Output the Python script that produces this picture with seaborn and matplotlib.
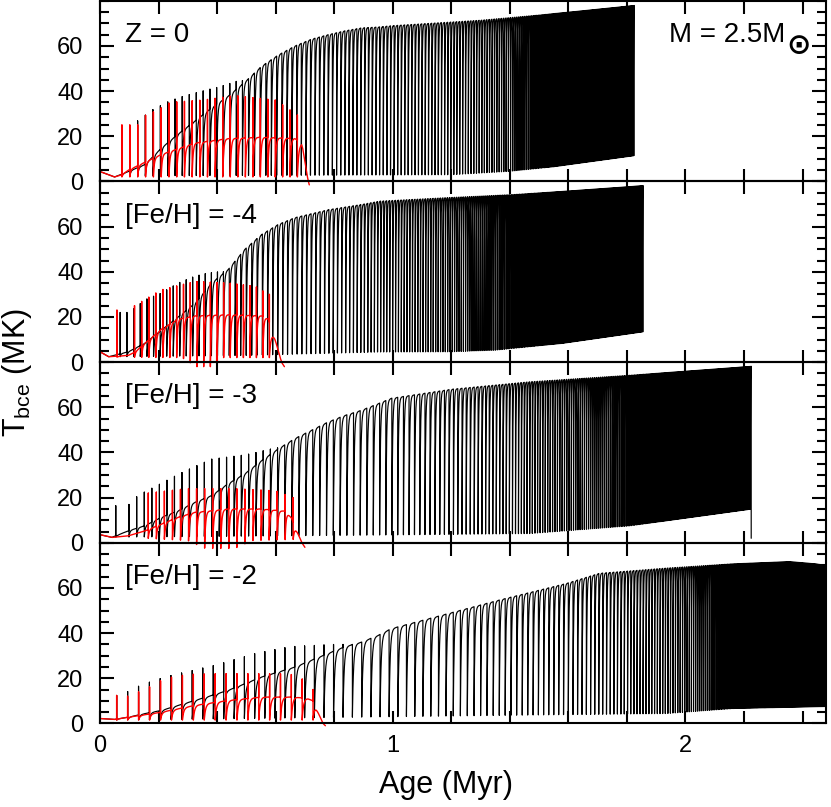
import numpy as np
import matplotlib
matplotlib.use("Agg")
import matplotlib.pyplot as plt
import seaborn as sns
from matplotlib.ticker import MultipleLocator

# ---- values (age in Myr, T_bce in MK) ----
panel_labels = ["Z = 0", "[Fe/H] = -4", "[Fe/H] = -3", "[Fe/H] = -2"]
mass_label = "M = 2.5M"
sun_symbol = "\u2299"

# black model: interpulse level, pulse spike tops, pulse dips, pulse spacing
black_arc_age = [
    [0.0, 0.05, 0.097, 0.154, 0.21, 0.267, 0.324, 0.381, 0.438, 0.495, 0.552, 0.609, 0.666,
     0.722, 0.779, 0.836, 0.893, 0.95, 1.0, 1.3, 1.5, 1.64, 1.83],
    [0.0, 0.03, 0.097, 0.154, 0.21, 0.267, 0.324, 0.381, 0.438, 0.495, 0.552, 0.609, 0.666,
     0.78, 0.893, 0.956, 1.18, 1.41, 1.6, 1.86],
    [0.0, 0.04, 0.097, 0.154, 0.21, 0.267, 0.324, 0.381, 0.438, 0.495, 0.552, 0.609, 0.666,
     0.722, 0.779, 0.836, 0.893, 0.95, 0.995, 1.2, 1.468, 1.81, 2.0, 2.23],
    [0.0, 0.05, 0.097, 0.154, 0.21, 0.267, 0.324, 0.381, 0.438, 0.495, 0.552, 0.609, 0.666,
     0.722, 0.779, 0.836, 0.893, 0.95, 0.995, 1.365, 1.593, 1.706, 1.934, 2.16, 2.355, 2.446, 2.52],
]
black_arc_T = [
    [4.4, 2.0, 4.4, 7.5, 14.8, 21.0, 26.7, 32.6, 37.8, 44.0, 51.0, 56.0, 60.0,
     63.0, 65.0, 66.7, 68.0, 68.4, 69.0, 71.4, 73.7, 75.5, 78.0],
    [4.6, 2.4, 4.6, 8.4, 14.2, 20.0, 26.0, 35.0, 41.0, 50.0, 56.5, 61.0, 64.0,
     67.5, 69.8, 71.3, 72.8, 74.2, 75.8, 78.2],
    [3.6, 2.4, 5.3, 7.6, 11.3, 14.2, 17.9, 20.9, 26.2, 30.6, 36.4, 41.6, 46.2,
     49.8, 53.5, 56.4, 58.7, 61.6, 64.0, 68.0, 71.3, 74.2, 76.0, 78.2],
    [2.2, 1.8, 2.8, 4.4, 5.8, 8.0, 10.2, 12.4, 14.7, 17.6, 20.6, 22.8, 25.0,
     28.0, 31.0, 34.0, 36.0, 39.0, 42.0, 54.7, 62.0, 66.5, 68.8, 70.7, 71.7, 70.7, 69.0],
]
black_spike_age = [
    [0.075, 0.13, 0.183, 0.236, 0.29, 0.35, 0.41, 0.47, 0.52],
    [0.069, 0.1, 0.154, 0.21, 0.267, 0.324, 0.37, 0.41],
    [0.054, 0.1, 0.13, 0.19, 0.27, 0.32, 0.38, 0.5, 0.6],
    [0.057, 0.1, 0.14, 0.22, 0.3, 0.4, 0.53, 0.65, 0.8],
]
black_spike_T = [
    [20, 27, 32, 35.5, 38, 40, 42, 44.5, 45],
    [22, 22, 27.6, 30.6, 35, 38, 39.5, 40],
    [16.4, 17, 21, 25, 30.5, 33.5, 37, 39, 42],
    [12.4, 14.4, 17, 20.5, 23, 26, 31, 34, 35],
]
black_dip_age = [
    [0.07, 1.2, 1.4, 1.55, 1.83],
    [0.06, 0.5, 0.95, 1.2, 1.35, 1.58, 1.86],
    [0.05, 1.0, 1.468, 1.81, 2.23],
    [0.05, 1.0, 1.365, 1.934, 2.16, 2.52],
]
black_dip_T = [
    [2.5, 3.0, 4.5, 6.5, 11.5],
    [2.4, 3.0, 4.5, 4.6, 5.3, 8.3, 13.5],
    [2.5, 3.5, 4.1, 7.5, 15.0],
    [1.5, 3.0, 3.6, 4.4, 6.6, 7.6],
]
black_period_age = [
    [0.075, 0.44, 0.67, 0.9, 1.15, 1.4, 1.55, 1.83],
    [0.069, 0.3, 0.6, 0.8, 0.95, 1.18, 1.41, 1.58, 1.86],
    [0.054, 0.1, 0.5, 0.9, 1.2, 1.47, 1.81, 1.93, 2.23],
    [0.057, 0.5, 0.95, 1.37, 1.6, 1.8, 2.05, 2.2, 2.52],
]
black_period = [
    [0.027, 0.022, 0.016, 0.013, 0.011, 0.0075, 0.004, 0.003],
    [0.023, 0.022, 0.017, 0.0145, 0.0105, 0.008, 0.0057, 0.0035, 0.003],
    [0.045, 0.026, 0.025, 0.0225, 0.015, 0.009, 0.0057, 0.0035, 0.003],
    [0.0375, 0.035, 0.031, 0.02, 0.016, 0.011, 0.0068, 0.004, 0.0035],
]
black_first = [0.075, 0.069, 0.054, 0.057]
black_last = [1.826, 1.857, 2.226, 2.52]
black_end_T = [11.5, 13.5, 2.0, 7.6]

# red model
red_arc_age = [
    [0.0, 0.05, 0.075, 0.097, 0.21, 0.324, 0.438, 0.552, 0.666, 0.69, 0.70, 0.71, 0.715],
    [0.0, 0.03, 0.097, 0.12, 0.154, 0.21, 0.267, 0.324, 0.438, 0.552, 0.575, 0.597, 0.62, 0.63],
    [0.0, 0.043, 0.097, 0.154, 0.21, 0.267, 0.324, 0.381, 0.438, 0.552, 0.634, 0.654, 0.69, 0.70],
    [0.0, 0.05, 0.097, 0.21, 0.324, 0.438, 0.552, 0.666, 0.71, 0.728, 0.745, 0.762, 0.77],
]
red_arc_T = [
    [4.4, 2.0, 3.0, 5.0, 12.0, 17.0, 19.0, 19.6, 19.0, 17.0, 9.0, 1.0, -1.5],
    [4.6, 2.4, 3.0, 4.5, 8.4, 14.6, 19.0, 20.5, 21.0, 20.5, 19.0, 11.0, 0.0, -2.0],
    [3.6, 2.4, 3.1, 5.3, 8.3, 11.3, 13.5, 14.2, 15.0, 15.0, 14.0, 11.0, 0.0, -2.0],
    [2.2, 1.8, 2.8, 5.0, 8.0, 10.2, 11.7, 11.7, 11.0, 10.0, 5.0, 0.0, -1.0],
]
red_spike_age = [
    [0.075, 0.13, 0.16, 0.19, 0.24, 0.35, 0.46, 0.6, 0.69],
    [0.058, 0.118, 0.21, 0.324, 0.438, 0.53, 0.575],
    [0.165, 0.3, 0.45, 0.6, 0.66],
    [0.057, 0.1, 0.183, 0.22, 0.3, 0.41, 0.55, 0.64, 0.68, 0.728],
]
red_spike_T = [
    [25, 25, 30, 31, 35, 36, 38, 36, 28],
    [23, 25, 32, 35.7, 35, 33.6, 30],
    [22, 24, 24, 23, 20],
    [12.4, 12, 17, 19.9, 21.7, 22, 22, 22, 21, 15],
]
red_dip_age = [
    [0.07, 0.7],
    [0.05, 0.28, 0.33, 0.38, 0.42, 0.6],
    [0.16, 0.3, 0.36, 0.46, 0.52, 0.66],
    [0.05, 0.73],
]
red_dip_T = [
    [2.0, 2.0],
    [2.2, 2.0, -2.0, -2.0, 2.0, 2.0],
    [2.0, 1.0, -2.5, -2.5, 1.0, 1.5],
    [1.5, 1.5],
]
red_period_age = [[0.075, 0.69], [0.058, 0.118, 0.3, 0.575], [0.165, 0.663], [0.057, 0.728]]
red_period = [[0.027, 0.025], [0.06, 0.0245, 0.023, 0.022], [0.0275, 0.0275], [0.0375, 0.037]]
red_first = [0.075, 0.058, 0.165, 0.057]
red_last = [0.695, 0.58, 0.668, 0.732]

# recovery after each pulse, as fraction of the interpulse interval
U = np.array([0.0, 0.01, 0.03, 0.06, 0.1, 0.15, 0.2, 0.28, 0.36, 0.45, 0.55, 0.65, 0.75, 0.85, 0.93])


def build_track(arc_age, arc_T, spike_age, spike_T, dip_age, dip_T,
                per_age, per, first, last, tail_end=None, end_T=None):
    pulses = [first]
    while True:
        nxt = pulses[-1] + np.interp(pulses[-1], per_age, per)
        if nxt > last + 1e-6:
            break
        pulses.append(nxt)

    arc_age = np.asarray(arc_age)
    arc_T = np.asarray(arc_T)
    keep = arc_age < first
    ages = list(arc_age[keep])
    temps = list(arc_T[keep])
    for i, t0 in enumerate(pulses):
        a0 = np.interp(t0, arc_age, arc_T)
        s0 = max(np.interp(t0, spike_age, spike_T), a0)
        d0 = np.interp(t0, dip_age, dip_T)
        if i + 1 < len(pulses):
            t1 = pulses[i + 1]
        elif tail_end is not None:
            t1 = tail_end
        else:
            ages += [t0, t0, t0]
            temps += [a0, s0, end_T]
            break
        ages += [t0, t0, t0]
        temps += [a0, s0, d0]
        tt = t0 + U[1:] * (t1 - t0)
        base = np.interp(tt, arc_age, arc_T)
        rec = base - (a0 - d0) * np.exp(-U[1:] / 0.12)
        ages += list(tt)
        temps += list(rec)
        if i + 1 == len(pulses):
            ages.append(t1)
            temps.append(np.interp(t1, arc_age, arc_T))
    return np.array(ages), np.array(temps)


sns.set_theme(style="ticks")
plt.rcParams["font.family"] = ["Liberation Sans", "DejaVu Sans"]
plt.rcParams["mathtext.default"] = "regular"
plt.rcParams["axes.linewidth"] = 1.5
for key in ["text.color", "axes.labelcolor", "xtick.color", "ytick.color", "axes.edgecolor"]:
    plt.rcParams[key] = "black"

fig, axes = plt.subplots(4, 1, figsize=(8.31, 8.07), dpi=100, sharex=True)
fig.subplots_adjust(left=0.1203, right=0.994, top=0.999, bottom=0.1035, hspace=0)

for k, ax in enumerate(axes):
    ax.set_facecolor("none")
    bx, by = build_track(black_arc_age[k], black_arc_T[k], black_spike_age[k], black_spike_T[k],
                         black_dip_age[k], black_dip_T[k], black_period_age[k], black_period[k],
                         black_first[k], black_last[k], end_T=black_end_T[k])
    rx, ry = build_track(red_arc_age[k], red_arc_T[k], red_spike_age[k], red_spike_T[k],
                         red_dip_age[k], red_dip_T[k], red_period_age[k], red_period[k],
                         red_first[k], red_last[k], tail_end=red_arc_age[k][-1])
    sns.lineplot(x=bx, y=by, sort=False, estimator=None, color="black", lw=0.85, ax=ax)
    sns.lineplot(x=rx, y=ry, sort=False, estimator=None, color="#ff0000", lw=1.0, ax=ax)
    ax.lines[-1].set_clip_on(False)

    ax.set_xlim(0, 2.48)
    ax.set_ylim(0, 80)
    ax.set_yticks([0, 20, 40, 60])
    ax.yaxis.set_minor_locator(MultipleLocator(5))
    ax.xaxis.set_major_locator(MultipleLocator(1))
    ax.xaxis.set_minor_locator(MultipleLocator(0.2))
    ax.tick_params(which="both", direction="in", top=True, right=True, width=1.5,
                   labelsize=17, color="black", labelcolor="black")
    ax.tick_params(axis="x", which="both", length=9, pad=8)
    ax.tick_params(axis="y", which="major", length=10, pad=12)
    ax.tick_params(axis="y", which="minor", length=6.5)
    ax.set_xlabel("")
    ax.set_ylabel("")
    for sp in ax.spines.values():
        sp.set_color("black")
        sp.set_zorder(3)

    ax.text(0.034, 0.81, panel_labels[k], transform=ax.transAxes, fontsize=20,
            ha="left", va="center", color="black")

axes[0].text(0.944, 0.81, mass_label, transform=axes[0].transAxes, fontsize=20,
             ha="right", va="center", color="black")
axes[0].text(0.945, 0.75, sun_symbol, transform=axes[0].transAxes, fontsize=21,
             family="DejaVu Sans", fontweight="bold", ha="left", va="center", color="black")

fig.text(0.537, 0.027, "Age (Myr)", fontsize=22, ha="center", va="center", color="black")
fig.text(0.02, 0.538, "T$_{bce}$ (MK)", fontsize=22, rotation=90, ha="center", va="center",
         color="black")

fig.savefig("out.png", dpi=100)
